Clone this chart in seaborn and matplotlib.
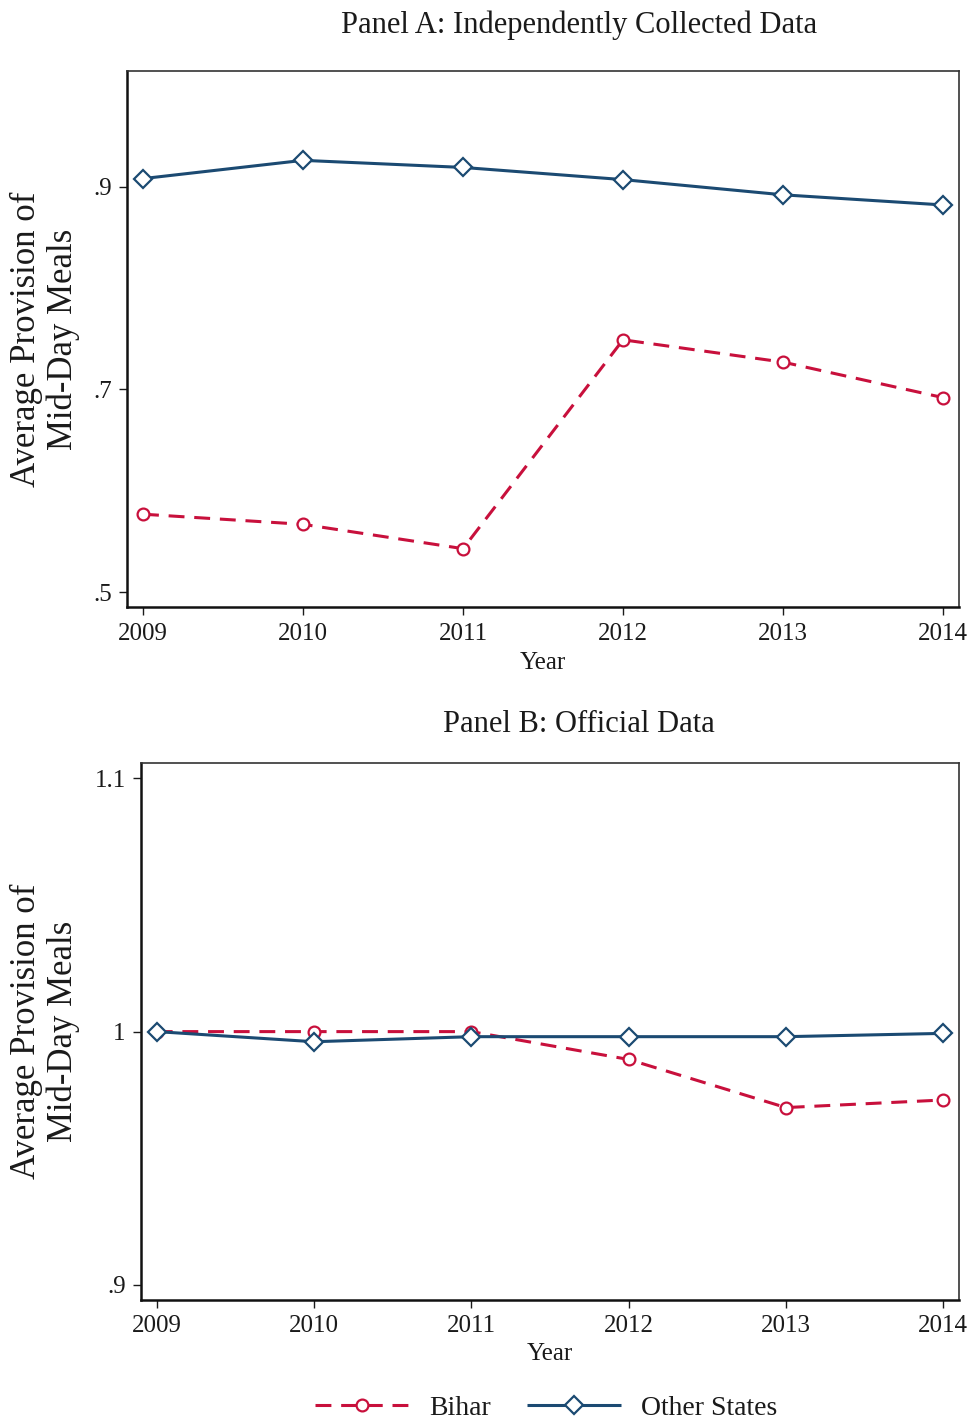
import seaborn as sns
import matplotlib.pyplot as plt
import matplotlib.ticker as mtick
import pandas as pd

years = [2009, 2010, 2011, 2012, 2013, 2014]

# Panel A: independently collected data
bihar_a = [0.577, 0.567, 0.543, 0.749, 0.727, 0.692]
other_a = [0.908, 0.926, 0.919, 0.907, 0.892, 0.882]

# Panel B: official data
bihar_b = [1.000, 1.000, 1.000, 0.989, 0.970, 0.973]
other_b = [1.000, 0.996, 0.998, 0.998, 0.998, 0.9993]

groups = ['Bihar', 'Other States']
red = '#C8103C'
blue = '#1B4A72'

sns.set_style('ticks')
plt.rcParams['font.family'] = ['Liberation Serif', 'DejaVu Serif']
plt.rcParams['text.color'] = '#1a1a1a'
plt.rcParams['axes.labelcolor'] = '#1a1a1a'
plt.rcParams['xtick.color'] = '#1a1a1a'
plt.rcParams['ytick.color'] = '#1a1a1a'


def make_df(b, o):
    return pd.DataFrame({
        'Year': years * 2,
        'value': b + o,
        'group': ['Bihar'] * len(years) + ['Other States'] * len(years),
    })


def lead_zero(v, pos):
    s = ('%.1f' % v).rstrip('0').rstrip('.')
    if s.startswith('0.'):
        s = s[1:]
    return s


def fix_line(line):
    # hollow markers with coloured edge
    line.set_markeredgecolor(line.get_color())
    line.set_markerfacecolor('white')
    line.set_markeredgewidth(1.6)
    if line.get_marker() == 'D':
        line.set_markersize(9.5)
    elif line.get_marker() == 'o':
        line.set_markersize(8.5)


fig = plt.figure(figsize=(9.71, 14.18), dpi=100)
axA = fig.add_axes([0.1308, 0.5716, 0.8569, 0.3786])
axB = fig.add_axes([0.1452, 0.0832, 0.8424, 0.3784])

panels = [
    (axA, make_df(bihar_a, other_a), (0.485, 1.0145), [0.5, 0.7, 0.9], 'Panel A: Independently Collected Data', 25, -0.0565, -0.083),
    (axB, make_df(bihar_b, other_b), (0.894, 1.1059), [0.9, 1.0, 1.1], 'Panel B: Official Data', 724, -0.0746, -0.080),
]

for ax, df, ylim, yt, title, ty, ylx, xly in panels:
    sns.lineplot(data=df, x='Year', y='value', hue='group', style='group', ax=ax,
                 palette={'Bihar': red, 'Other States': blue},
                 markers={'Bihar': 'o', 'Other States': 'D'},
                 dashes={'Bihar': (5.2, 3.2), 'Other States': (1, 0)},
                 linewidth=2.2)
    for line in ax.get_lines():
        fix_line(line)
    ax.set_xlim(2008.9, 2014.1)
    ax.set_ylim(*ylim)
    ax.set_xticks(years)
    ax.set_yticks(yt)
    ax.yaxis.set_major_formatter(mtick.FuncFormatter(lead_zero))
    ax.tick_params(axis='both', direction='out', length=6, width=1, labelsize=18, pad=5)
    ax.set_xlabel('Year', fontsize=18)
    ax.set_ylabel('Average Provision of\nMid-Day Meals', fontsize=25, linespacing=1.12)
    ax.xaxis.set_label_coords(0.5, xly)
    ax.yaxis.set_label_coords(ylx, 0.5)
    for sp in ['left', 'bottom']:
        ax.spines[sp].set_linewidth(1.8)
        ax.spines[sp].set_color('#111111')
    for sp in ['top', 'right']:
        ax.spines[sp].set_linewidth(1.2)
        ax.spines[sp].set_color('#333333')
    fig.text(579 / 971, 1 - ty / 1418, title, ha='center', va='center', fontsize=22)
    handles, labels = ax.get_legend_handles_labels()
    ax.get_legend().remove()

for h in handles:
    fix_line(h)
    h.set_linewidth(2.2)

fig.legend(handles, labels, loc='center', bbox_to_anchor=(546 / 971, 1 - 1408 / 1418), ncol=2,
           frameon=False, fontsize=20, handlelength=3.4, handletextpad=0.7, columnspacing=1.3)

fig.savefig('out.png', dpi=100)
